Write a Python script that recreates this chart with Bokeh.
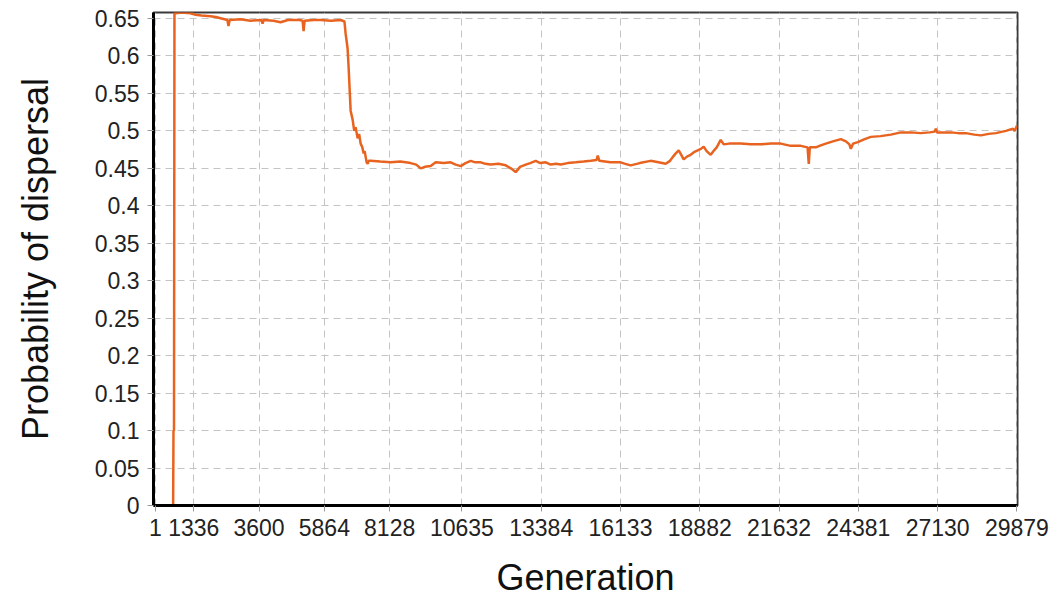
from bokeh.plotting import figure
from bokeh.models import FixedTicker, Range1d, ColumnDataSource
from bokeh.embed import file_html
from bokeh.resources import INLINE

# ---- data ----
generation = [
    1, 354, 597, 620, 632, 650, 666, 701, 900, 1221, 1400, 1600, 1915, 2100, 2300,
    2500, 2540, 2580, 2956, 3300, 3680, 3720, 3760, 4100, 4345, 4600, 5000, 5110,
    5143, 5180, 5500, 5733, 6100, 6427, 6560, 6601, 6670, 6705, 6775, 6844, 6900,
    6948, 7018, 7070, 7122, 7180, 7226, 7261, 7330, 7365, 7400, 7469, 7800, 8163,
    8500, 8856, 9050, 9204, 9350, 9551, 9724, 10000, 10244, 10420, 10591, 10760,
    10938, 11100, 11285, 11450, 11632, 11900, 12153, 12330, 12500, 12650, 12847,
    13000, 13194, 13350, 13541, 13714, 13900, 14061, 14300, 14582, 14850, 15102,
    15300, 15345, 15400, 15786, 16138, 16300, 16485, 16800, 17179, 17450, 17700,
    17850, 17943, 18050, 18151, 18240, 18324, 18450, 18567, 18700, 18810, 18920,
    19018, 19120, 19261, 19380, 19469, 19608, 19712, 19900, 20302, 20650, 20996,
    21350, 21690, 22037, 22384, 22620, 22662, 22697, 22905, 23100, 23252, 23500,
    23773, 23950, 24070, 24120, 24200, 24363, 24600, 24814, 25150, 25508, 25855,
    26200, 26549, 26850, 27030, 27069, 27110, 27243, 27590, 27850, 28110, 28400,
    28631, 28900, 29151, 29498, 29741, 29800, 29880,
]
probability = [
    0.0, 0.0, 0.0, 0.0, 0.1, 0.1, 0.657, 0.657, 0.658, 0.657, 0.655, 0.654, 0.653, 0.652, 0.650,
    0.648, 0.640, 0.648, 0.649, 0.647, 0.648, 0.643, 0.648, 0.647, 0.645, 0.648, 0.648, 0.647,
    0.633, 0.647, 0.648, 0.648, 0.647, 0.648, 0.646, 0.630, 0.610, 0.585, 0.527, 0.515, 0.500,
    0.505, 0.490, 0.496, 0.483, 0.478, 0.470, 0.473, 0.458, 0.456, 0.460, 0.460, 0.459, 0.458,
    0.459, 0.457, 0.455, 0.450, 0.452, 0.453, 0.458, 0.457, 0.458, 0.455, 0.453, 0.457,
    0.460, 0.458, 0.458, 0.456, 0.455, 0.456, 0.454, 0.450, 0.445, 0.452, 0.455,
    0.457, 0.460, 0.457, 0.458, 0.455, 0.456, 0.455, 0.457, 0.458, 0.459, 0.460,
    0.461, 0.467, 0.460, 0.458, 0.458, 0.456, 0.454, 0.457, 0.460, 0.458, 0.456,
    0.460, 0.465, 0.470, 0.474, 0.468, 0.462, 0.466, 0.468, 0.472, 0.474, 0.476,
    0.479, 0.473, 0.468, 0.474, 0.478, 0.488, 0.482, 0.483, 0.483, 0.482, 0.482,
    0.483, 0.483, 0.480, 0.480, 0.478, 0.456, 0.478, 0.478, 0.481, 0.483, 0.486,
    0.489, 0.486, 0.482, 0.476, 0.483, 0.485, 0.489, 0.492, 0.493, 0.495, 0.498,
    0.498, 0.497, 0.498, 0.499, 0.503, 0.498, 0.498, 0.498, 0.497, 0.497, 0.495,
    0.494, 0.496, 0.497, 0.500, 0.503, 0.500, 0.507,
]
x_ticks = [1, 1336, 3600, 5864, 8128, 10635, 13384, 16133, 18882, 21632, 24381, 27130, 29879]
y_ticks = [0, 0.05, 0.1, 0.15, 0.2, 0.25, 0.3, 0.35, 0.4, 0.45, 0.5, 0.55, 0.6, 0.65]
y_tick_labels = ["0", "0.05", "0.1", "0.15", "0.2", "0.25", "0.3", "0.35", "0.4", "0.45",
                 "0.5", "0.55", "0.6", "0.65"]

FONT = "Liberation Sans"

src = ColumnDataSource(data=dict(g=generation, p=probability))

p = figure(width=1050, height=610, output_backend="svg", toolbar_location=None,
           x_range=Range1d(-61, 29900), y_range=Range1d(0, 0.658),
           min_border_left=153, min_border_right=33, min_border_top=12, min_border_bottom=105)
p.background_fill_color = "white"
p.border_fill_color = "white"
p.outline_line_color = "#3a3a3a"
p.outline_line_width = 2

p.line("g", "p", source=src, line_color="#e8631f", line_width=2.5)

# axes
p.xaxis.ticker = FixedTicker(ticks=x_ticks)
p.yaxis.ticker = FixedTicker(ticks=y_ticks)
p.xaxis.major_label_overrides = {t: str(t) for t in x_ticks}
p.yaxis.major_label_overrides = {t: l for t, l in zip(y_ticks, y_tick_labels)}
for ax in (p.xaxis[0], p.yaxis[0]):
    ax.axis_line_color = "black"
    ax.axis_line_width = 3
    ax.major_tick_line_color = "#9a9a9a"
    ax.major_tick_line_width = 1
    ax.major_tick_out = 6
    ax.major_tick_in = 0
    ax.minor_tick_line_color = None
    ax.major_label_text_font = FONT
    ax.major_label_text_font_size = "23px"
    ax.major_label_text_color = "#222222"
    ax.axis_label_text_font = FONT
    ax.axis_label_text_font_size = "36px"
    ax.axis_label_text_font_style = "normal"
    ax.axis_label_text_color = "#111111"

p.xaxis.axis_label = "Generation"
p.yaxis.axis_label = "Probability of dispersal"
p.xaxis.major_label_standoff = 7
p.yaxis.major_label_standoff = 8
p.xaxis.axis_label_standoff = 18
p.yaxis.axis_label_standoff = 36

# grid
for g in (p.xgrid[0], p.ygrid[0]):
    g.grid_line_color = "#c4c4c4"
    g.grid_line_width = 1
    g.grid_line_dash = "7 5"

open("out.html", "w").write(file_html(p, INLINE))
